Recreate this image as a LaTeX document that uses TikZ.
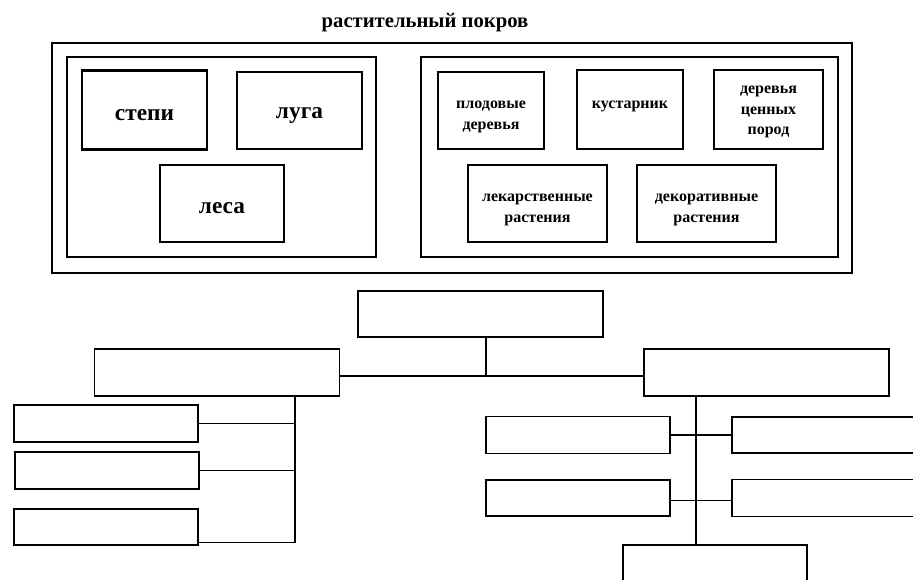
\documentclass[tikz,border=0pt]{standalone}
\usepackage{fontspec}
\setmainfont{Liberation Serif}
\usetikzlibrary{positioning}

\tikzset{
  box/.style={draw, line width=1.6pt, inner sep=0pt},
  bigtxt/.style={font=\bfseries\fontsize{17.5}{20}\selectfont, inner sep=0pt, yshift=-3.5pt},
  smalltxt/.style={font=\bfseries\fontsize{12}{15.5}\selectfont, align=center, inner sep=0pt, yshift=-5pt},
  blank/.style={draw, line width=1.1pt, inner sep=0pt, minimum width=184*0.75pt, minimum height=37*0.75pt},
  wide/.style={blank, minimum width=245*0.75pt, minimum height=47*0.75pt},
  link/.style={line width=0.8pt}
}

\begin{document}
\begin{tikzpicture}[x=0.75pt,y=0.75pt,yscale=-1,xscale=1]
            \clip (0,0) rectangle (913,579);

            % Title
            \node[font=\bfseries\fontsize{15.5}{18}\selectfont] (title) at (425,23) {растительный покров};

            % Frames
            \draw [line width=1.6pt] (52,43) rectangle (852,273) ;
            \draw [line width=1.6pt] (67,57) rectangle (376,257) ;
            \draw [line width=1.6pt] (421,57) rectangle (838,257) ;

            % Left group
            \node[box, minimum width=125*0.75pt, minimum height=79*0.75pt, label={[bigtxt]center:степи}] (stepi) at (144.5,110) {};
            \node[box, minimum width=125*0.75pt, minimum height=77*0.75pt, label={[bigtxt]center:луга}] (luga) at (299.5,110.5) {};
            \node[box, minimum width=124*0.75pt, minimum height=77*0.75pt, label={[bigtxt]center:леса}] (lesa) at (222,203.5) {};

            % Right group
            \node[box, minimum width=106*0.75pt, minimum height=77*0.75pt, label={[smalltxt]center:плодовые\\деревья}] (plod) at (491,110.5) {};
            \node[box, minimum width=106*0.75pt, minimum height=79*0.75pt, label={[smalltxt, yshift=7pt]center:кустарник}] (kust) at (630,109.5) {};
            \node[box, minimum width=109*0.75pt, minimum height=79*0.75pt, label={[smalltxt, yshift=3pt]center:деревья\\ценных\\пород}] (cenn) at (768.5,109.5) {};
            \node[box, minimum width=139*0.75pt, minimum height=77*0.75pt, label={[smalltxt]center:лекарственные\\растения}] (lek) at (537.5,203.5) {};
            \node[box, minimum width=139*0.75pt, minimum height=77*0.75pt, label={[smalltxt]center:декоративные\\растения}] (dek) at (706.5,203.5) {};

            % Empty scheme
            \node[wide, minimum height=46*0.75pt] (root) at (480.5,314) {};
            \node[wide] (midL) at (217,372.5) {};
            \node[wide] (midR) at (766.5,372.5) {};

            \node[blank] (L1) at (106,423.5) {};
            \node[blank] (L2) at (107,470.5) {};
            \node[blank, minimum height=36*0.75pt] (L3) at (106,527) {};

            \node[blank] (R1) at (578,435) {};
            \node[blank, minimum height=36*0.75pt] (R2) at (578,498) {};
            \node[blank, minimum height=36*0.75pt] (R3) at (824,435) {};
            \node[blank] (R4) at (824,498) {};
            \node[blank] (bot) at (715,563.5) {};

            \coordinate (lbus) at (295,0);
            \coordinate (rbus) at (696,0);
            \coordinate (tbus) at (486,0);

            % Connectors
            \draw [link] ([yshift=2.6pt]midL.east) -- ([yshift=2.6pt]midR.west) ;
            \draw [link] (tbus |- root.south) -- ([yshift=2.6pt]tbus |- midL.east) ;

            \draw [link] (lbus |- midL.south) -- ([yshift=-2.2pt]lbus |- L3.south) -- ([yshift=-2.2pt]L3.south east) ;
            \draw [link] (L1.east) -- (L1.east -| lbus) ;
            \draw [link] (L2.east) -- (L2.east -| lbus) ;

            \draw [link] (rbus |- midR.south) -- (rbus |- bot.north) ;
            \draw [link] (R1.east) -- (R3.west) ;
            \draw [link] ([yshift=2.2pt]R2.east) -- ([yshift=2.2pt]R4.west) ;

\end{tikzpicture}
\end{document}
